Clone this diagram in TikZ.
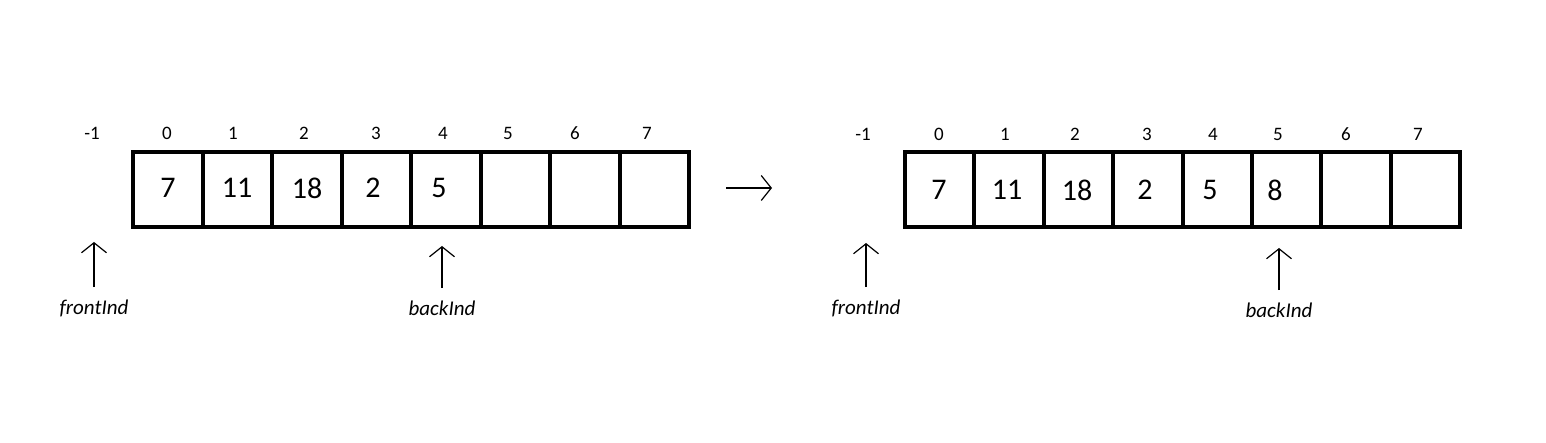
\documentclass[tikz,border=0pt]{standalone}
\usepackage{fontspec}
\setmainfont{Carlito}
\usetikzlibrary{arrows.meta}
\begin{document}
\begin{tikzpicture}[x=0.5pt,y=0.5pt,
  cellline/.style={line width=2pt},
  pointer/.style={line width=0.6pt,-{Straight Barb[length=5pt,width=12.5pt]}},
  idx/.style={font=\fontsize{9.5}{11}\selectfont},
  val/.style={font=\fontsize{15}{18}\selectfont},
  lbl/.style={font=\fontsize{10.5}{12}\selectfont\itshape,inner sep=0pt}]
\useasboundingbox (0,0) rectangle (1546,443);
\begin{scope}[shift={(133,216)}]
\draw[cellline] (0,0) grid[step={(69.5,75)}] (556,75);
\draw[cellline] (0,0) rectangle (556,75);
\foreach \x/\v [count=\i] in {35/7,104/11,174/18,240/2,306/5} \node[val] (valL\i) at (\x,39) {\v};
\foreach \x/\n [count=\i] in {-41/-1,34/0,100/1,171/2,243/3,310/4,375/5,442/6,514/7} \node[idx] (idxL\i) at (\x,94) {\n};
\node[lbl] (frontL) at (-39,-81) {frontInd};
\coordinate (frontTipL) at (-39,-15);
\draw[pointer,shorten <=6pt] (frontL) -- (frontTipL);
\node[lbl] (backL) at (309,-81) {backInd};
\coordinate (backTipL) at (309,-19);
\draw[pointer,shorten <=6pt] (backL) -- (backTipL);
\end{scope}
\coordinate (fromA) at (726,255);
\coordinate (toB) at (772,255);
\draw[pointer] (fromA) -- (toB);
\begin{scope}[shift={(905,216)}]
\draw[cellline] (0,0) grid[step={(69.4,75)}] (555,75);
\draw[cellline] (0,0) rectangle (555,75);
\foreach \x/\v [count=\i] in {34/7,102/11,172/18,240/2,305/5,370/8} \node[val] (valR\i) at (\x,37) {\v};
\foreach \x/\n [count=\i] in {-42/-1,34/0,100/1,170/2,242/3,308/4,373/5,441/6,513/7} \node[idx] (idxR\i) at (\x,93) {\n};
\node[lbl] (frontR) at (-39,-81) {frontInd};
\coordinate (frontTipR) at (-39,-16);
\draw[pointer,shorten <=6pt] (frontR) -- (frontTipR);
\node[lbl] (backR) at (374,-83) {backInd};
\coordinate (backTipR) at (374,-21);
\draw[pointer,shorten <=6pt] (backR) -- (backTipR);
\end{scope}
\end{tikzpicture}
\end{document}
